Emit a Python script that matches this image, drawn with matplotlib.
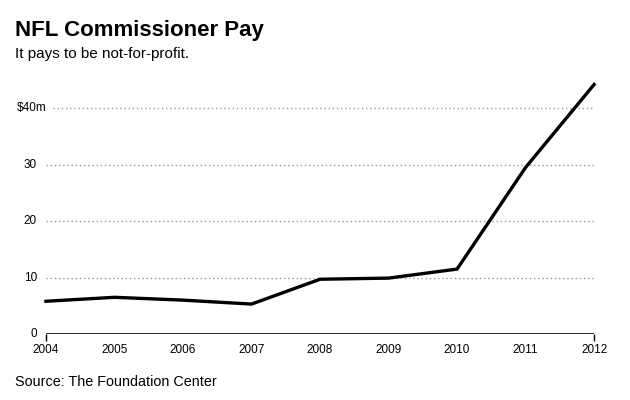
import matplotlib.pyplot as plt
from matplotlib.transforms import blended_transform_factory, offset_copy

plt.rcParams['font.family'] = ['Liberation Sans', 'DejaVu Sans']

years = [2004, 2005, 2006, 2007, 2008, 2009, 2010, 2011, 2012]
pay = [5.8, 6.5, 6.0, 5.3, 9.7, 9.9, 11.5, 29.5, 44.2]
y_ticks = [0, 10, 20, 30, 40]
y_labels = ['0', '10', '20', '30', '$40m']

fig = plt.figure(figsize=(6.3, 4.0), dpi=100)
ax = fig.add_axes([0.073, 0.165, 0.870, 0.628])

ax.set_xlim(2004, 2012)
ax.set_ylim(0, 44.5)

# dotted gridlines
for v in y_ticks[1:]:
    start = 2004.1 if v == 40 else 2004
    ax.plot([start, 2012], [v, v], linestyle=(0, (1, 2)), color='#999999',
            linewidth=1.0, zorder=1)

ax.plot(years, pay, color='black', linewidth=2.4, solid_joinstyle='miter',
        zorder=3, clip_on=False)

# baseline axis with end ticks only
ax.plot([2004, 2012], [0, 0], color='black', linewidth=1.2, zorder=2)
for side in ['top', 'right', 'left', 'bottom']:
    ax.spines[side].set_visible(False)
ax.set_xticks([2004, 2012])
ax.set_xticklabels([])
ax.tick_params(axis='x', length=5, width=1.0, color='black', direction='out')
ax.set_yticks([])

for yr in years:
    ax.text(yr, -1.7, str(yr), ha='center', va='top', fontsize=8.5)

base = blended_transform_factory(ax.transAxes, ax.transData)
for v, lab in zip(y_ticks, y_labels):
    dx = 1 if lab.endswith('m') else -9
    trans = offset_copy(base, fig=fig, x=dx, y=0, units='dots')
    ax.text(0, v, lab, transform=trans, ha='right', va='center', fontsize=8.5)

fig.text(0.024, 0.91, 'NFL Commissioner Pay', fontsize=16, fontweight='bold',
         va='baseline')
fig.text(0.024, 0.855, 'It pays to be not-for-profit.', fontsize=11,
         va='baseline')
fig.text(0.024, 0.035, 'Source: The Foundation Center', fontsize=10.4,
         va='baseline')

fig.savefig('out.png', dpi=100)
